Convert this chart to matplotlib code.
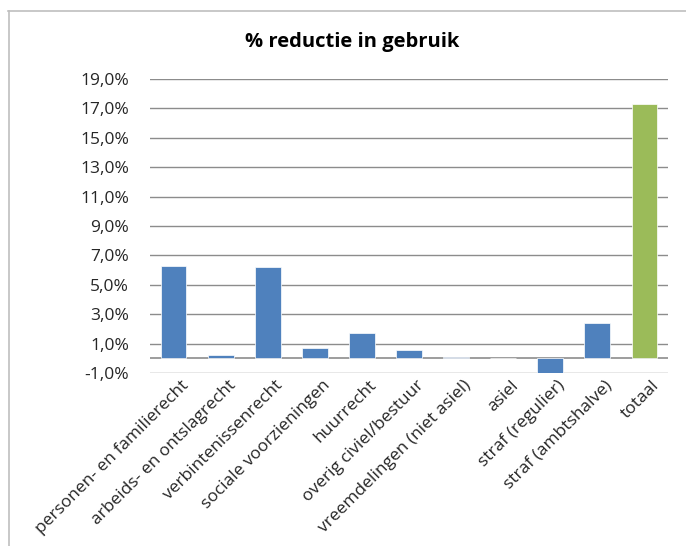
import numpy as np
import matplotlib
matplotlib.use('Agg')
import matplotlib.pyplot as plt
from matplotlib.lines import Line2D
from matplotlib.ticker import FuncFormatter

plt.rcParams['font.family'] = ['Open Sans', 'DejaVu Sans']

categories = ['personen- en familierecht', 'arbeids- en ontslagrecht', 'verbintenissenrecht',
              'sociale voorzieningen', 'huurrecht', 'overig civiel/bestuur',
              'vreemdelingen (niet asiel)', 'asiel', 'straf (regulier)', 'straf (ambtshalve)', 'totaal']
values = [6.3, 0.2, 6.2, 0.7, 1.7, 0.55, 0.1, 0.0, -1.0, 2.4, 17.3]
yticks = [-1, 1, 3, 5, 7, 9, 11, 13, 15, 17, 19]

blue = '#4F81BD'
green = '#9BBB59'
colors = [blue] * (len(values) - 1) + [green]

fig = plt.figure(figsize=(6.86, 5.46), dpi=100)
ax = fig.add_axes([150 / 686, 1 - 373 / 546, 518 / 686, 294 / 546])

x = np.arange(len(categories))
ax.bar(x, values, width=0.55, color=colors, edgecolor='white', linewidth=0.5, zorder=3)

ax.set_xlim(-0.5, len(categories) - 0.5)
ax.set_ylim(-1, 19)
ax.set_yticks(yticks)
ax.yaxis.set_major_formatter(FuncFormatter(lambda v, p: ('%.1f%%' % v).replace('.', ',')))
ax.grid(axis='y', color='#8C8C8C', linewidth=1.0, zorder=0)
ax.axhline(0, color='#8C8C8C', linewidth=1.2, zorder=2)
for s in ax.spines.values():
    s.set_visible(False)
ax.tick_params(axis='y', length=0, pad=15, labelsize=12.5, labelcolor='#262626')
ax.tick_params(axis='x', length=0, pad=3, labelsize=12.5, labelcolor='#262626')
ax.set_xticks(x + 0.15)
ax.set_xticklabels(categories, rotation=45, ha='right', rotation_mode='anchor')

fig.text(352 / 686, 1 - 42 / 546, '% reductie in gebruik', ha='center', va='center',
         fontsize=14.5, fontweight='bold', color='black')

# outer chart border (top and left only visible)
fig.add_artist(Line2D([8 / 686, 1], [1 - 10.5 / 546, 1 - 10.5 / 546], color='#BFBFBF', linewidth=1.2))
fig.add_artist(Line2D([8.5 / 686, 8.5 / 686], [0, 1 - 10.5 / 546], color='#BFBFBF', linewidth=1.2))

fig.savefig('out.png', dpi=100, facecolor='white')
